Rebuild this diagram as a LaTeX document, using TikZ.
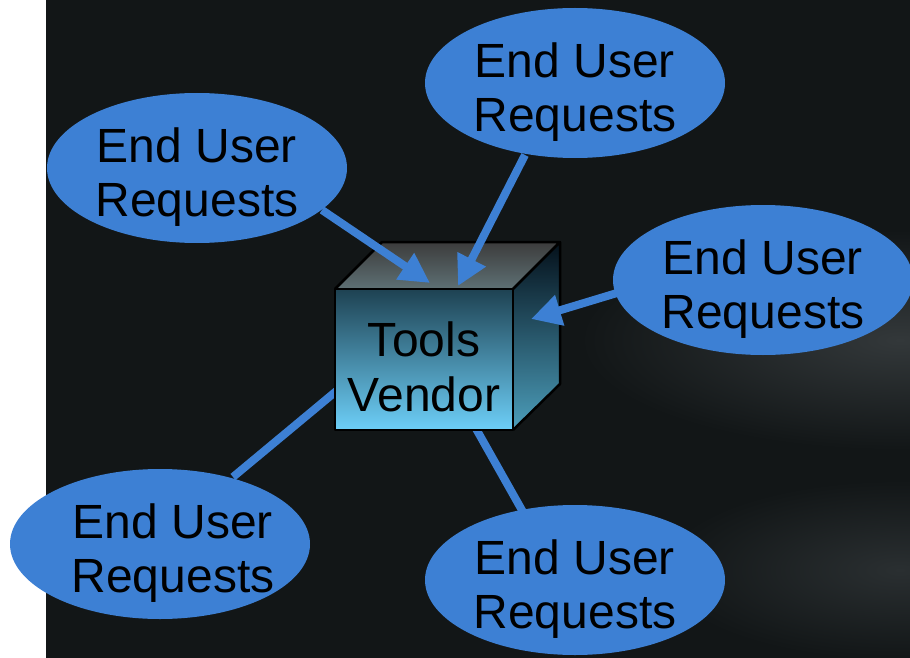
\documentclass[tikz,border=0pt]{standalone}
\usepackage{fontspec}
\setmainfont{Liberation Sans}
\usetikzlibrary{shapes.geometric,arrows.meta}
\definecolor{bg}{HTML}{121617}
\definecolor{ublue}{HTML}{3D80D4}
\definecolor{topA}{HTML}{3C3C3C}
\definecolor{topB}{HTML}{5E7074}
\definecolor{sideA}{HTML}{04101A}
\definecolor{sideB}{HTML}{4C9EBB}
\definecolor{frontA}{HTML}{1E4252}
\definecolor{frontB}{HTML}{6DCFF8}
\definecolor{smear}{HTML}{33383A}
\definecolor{smearb}{HTML}{2A2F31}
\tikzset{
  req/.style={ellipse, fill=ublue, minimum width=300pt, minimum height=150pt, inner sep=0pt},
  reqtext/.style={align=center, inner sep=0pt, font=\fontsize{48}{54}\selectfont},
  link/.style={draw=ublue, line width=8pt},
  linkarrow/.style={link, -{Triangle[length=30pt,width=30pt]}},
  edge/.style={draw=black, line width=2.5pt, line join=round}
}
\begin{document}
\begin{tikzpicture}[x=1pt,y=-1pt]
\useasboundingbox (0,0) rectangle (910,658);
\fill[white] (0,0) rectangle (46,658);
\fill[bg] (46,0) rectangle (910,658);
\begin{scope}
\clip (46,0) rectangle (910,658);
\shade[inner color=smear, outer color=bg] (900,340) ellipse [x radius=320pt, y radius=110pt];
\shade[inner color=smearb, outer color=bg] (900,570) ellipse [x radius=240pt, y radius=90pt];
\end{scope}
% cube corners
\coordinate (ftl) at (335,289);
\coordinate (ftr) at (513,289);
\coordinate (fbr) at (513,430);
\coordinate (fbl) at (335,430);
\coordinate (btl) at (382,242);
\coordinate (btr) at (560,242);
\coordinate (bbr) at (560,384);
% ellipse positions
\path (197,168) coordinate (p1) (575,83) coordinate (p2) (763,280) coordinate (p3) (160,544) coordinate (p4) (575,580) coordinate (p5);
% lower connectors (behind cube)
\coordinate (t4) at (340,388);
\coordinate (t5) at (470,418);
\draw[link] (233,477) coordinate (s4) -- (t4);
\draw[link] (523,512) coordinate (s5) -- (t5);
% cube
\shade[top color=topA, bottom color=topB] (ftl) -- (btl) -- (btr) -- (ftr) -- cycle;
\shade[top color=sideA, bottom color=sideB] (ftr) -- (btr) -- (bbr) -- (fbr) -- cycle;
\shade[top color=frontA, bottom color=frontB] (ftl) rectangle (fbr);
\draw[edge] (ftl) -- (btl) -- (btr) -- (ftr) (btr) -- (bbr) -- (fbr);
\draw[edge] (ftl) rectangle (fbr);
\node[reqtext, font=\fontsize{48}{55}\selectfont] (cube) at (424,367) {Tools\\Vendor};
% upper connectors with arrows
\draw[linkarrow] (322,210) coordinate (s1) -- (430,283) coordinate (t1);
\draw[linkarrow] (525,155) coordinate (s2) -- (458,286) coordinate (t2);
\draw[linkarrow] (617,293) coordinate (s3) -- (531,319) coordinate (t3);
% ellipses
\foreach \i/\dx in {1/0,2/0,3/0,4/13,5/0} {
  \node[req] (e\i) at (p\i) {};
  \node[reqtext] (e\i t) at ([xshift=\dx pt, yshift=-9pt]e\i.center) {End User\\Requests};
}
\end{tikzpicture}
\end{document}
